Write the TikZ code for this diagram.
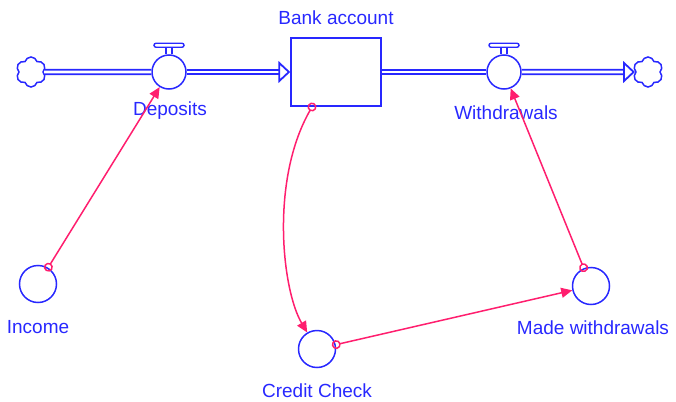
\documentclass[tikz,border=0pt]{standalone}
\usepackage{fontspec}
\setmainfont{Liberation Sans}
\usetikzlibrary{arrows.meta,shapes.symbols}
\definecolor{flowblue}{RGB}{40,40,255}
\definecolor{linkpink}{RGB}{255,30,110}
\tikzset{
  valve/.style={circle,draw=flowblue,line width=1.5pt,minimum size=34pt,inner sep=0pt},
  aux/.style={circle,draw=flowblue,line width=1.5pt,minimum size=37pt,inner sep=0pt},
  stock/.style={rectangle,draw=flowblue,line width=1.5pt,minimum width=90pt,minimum height=68pt},
  source/.style={cloud,cloud puffs=6,aspect=1,draw=flowblue,line width=1.5pt,minimum width=30pt,minimum height=30pt,inner sep=0pt},
  pipe/.style={draw=flowblue,line width=1.8pt,double=white,double distance=2.6pt},
  handle/.style={flowblue,line width=1.4pt},
  link/.style={linkpink,line width=1.5pt,shorten <=-4pt,{Circle[open,length=9pt,width=9pt]}-{Triangle[length=11pt,width=10pt]}},
  lbl/.style={text=flowblue,font=\fontsize{19}{22}\selectfont,inner sep=0pt},
}
\begin{document}
\begin{tikzpicture}[x=1pt,y=-1pt]
  \useasboundingbox (0,0) rectangle (676,401);
  % stock and flows
  \node[source] (srcL) at (31,72) {};
  \node[valve] (deposits) at (169,72) {};
  \node[stock] (bank) at (336,72) {};
  \node[valve] (withdrawals) at (504,72) {};
  \node[source] (sinkR) at (648,72) {};
  \foreach \v in {deposits,withdrawals} {
    \draw[handle] (\v.north) ++(-3,0) -- ++(0,-7) ++(6,0) -- ++(0,7);
    \draw[handle,rounded corners=2pt] (\v.north) ++(-15,-7) rectangle ++(30,-4);
  }
  \draw[pipe] (srcL) -- (deposits);
  \draw[pipe,-{Triangle[open,length=12pt,width=22pt]}] (deposits) -- (bank);
  \draw[pipe] (bank) -- (withdrawals);
  \draw[pipe,-{Triangle[open,length=12pt,width=22pt]}] (withdrawals) -- (sinkR);
  % converters
  \node[aux] (income) at (38,284) {};
  \node[aux] (credit) at (317,349) {};
  \node[aux] (made) at (591,286) {};
  % labels
  \node[lbl] (banklbl) at (336,18) {Bank account};
  \node[lbl] (deplbl) at (170,111) {Deposits};
  \node[lbl] (wdlbl) at (506,113) {Withdrawals};
  \node[lbl] (inclbl) at (38,327) {Income};
  \node[lbl] (creditlbl) at (317,391) {Credit Check};
  \node[lbl] (madelbl) at (593,328) {Made withdrawals};
  % connectors
  \coordinate (bankout) at (312,107);
  \draw[link,shorten <=-4.5pt] (bankout) .. controls (270,180) and (282,290) .. (credit);
  \draw[link] (income) -- (deposits);
  \draw[link] (credit) -- (made);
  \draw[link] (made) -- (withdrawals);
\end{tikzpicture}
\end{document}
